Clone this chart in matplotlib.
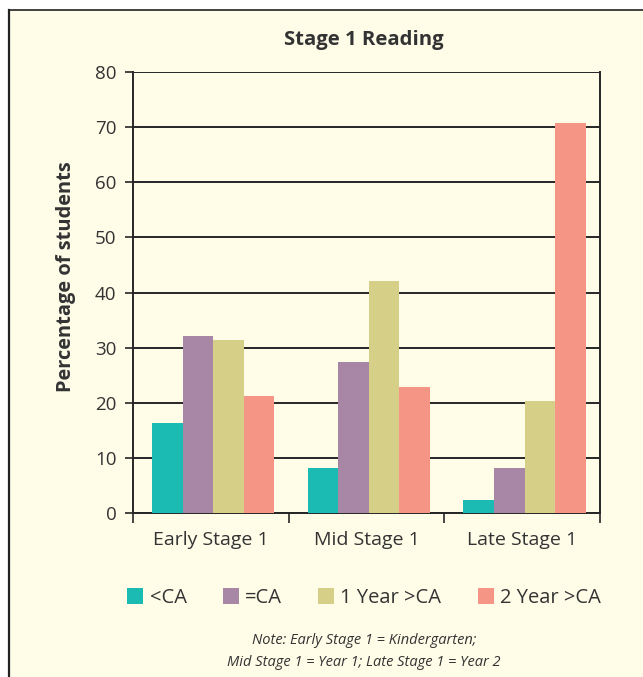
import matplotlib
matplotlib.use("Agg")
import matplotlib.pyplot as plt
from matplotlib.patches import Rectangle
import numpy as np

categories = ["Early Stage 1", "Mid Stage 1", "Late Stage 1"]
series_names = ["<CA", "=CA", "1 Year >CA", "2 Year >CA"]
below_ca = [16.3, 8.2, 2.4]
at_ca = [32.1, 27.4, 8.2]
one_year_above = [31.4, 42.1, 20.3]
two_years_above = [21.2, 22.9, 70.8]
y_ticks = [0, 10, 20, 30, 40, 50, 60, 70, 80]

colors = ["#1bbbb4", "#a886a6", "#d6cf87", "#f49585"]
bg = "#fffce8"
ink = "#333333"

plt.rcParams["font.family"] = ["Open Sans", "DejaVu Sans"]

W, H = 643, 677
fig = plt.figure(figsize=(W / 100, H / 100), dpi=100)
fig.patch.set_facecolor("white")

# cream panel with dark frame on the top and left edges
fig.add_artist(Rectangle((9 / W, 0), 1 - 9 / W, 1 - 10 / H,
                         transform=fig.transFigure, facecolor=bg,
                         edgecolor="none", zorder=-10))
fig.add_artist(plt.Line2D([9 / W, 9 / W], [0, 1 - 10 / H], transform=fig.transFigure,
                          color="#222222", lw=1.6, zorder=-5))
fig.add_artist(plt.Line2D([9 / W, 1], [1 - 10 / H, 1 - 10 / H], transform=fig.transFigure,
                          color="#222222", lw=1.2, zorder=-5))

ax_l, ax_r, ax_t, ax_b = 133, 600, 72, 513
ax = fig.add_axes([ax_l / W, 1 - ax_b / H, (ax_r - ax_l) / W, (ax_b - ax_t) / H])
ax.set_facecolor(bg)

series = [below_ca, at_ca, one_year_above, two_years_above]
x = np.arange(len(categories))
bw = 0.196
offsets = (np.arange(4) - 1.5) * bw + 0.015
for vals, off, c, name in zip(series, offsets, colors, series_names):
    ax.bar(x + off, vals, width=bw, color=c, label=name, zorder=3, linewidth=0)

ax.set_xlim(-0.5, 2.5)
ax.set_ylim(0, 80)
ax.set_yticks(y_ticks)
ax.set_yticklabels([str(v) for v in y_ticks], fontsize=13.5, color=ink)
ax.yaxis.grid(True, color="#262626", lw=1.4, zorder=1)
ax.set_axisbelow(True)

ax.set_xticks(x)
ax.set_xticklabels(categories, fontsize=14, color=ink)
ax.tick_params(axis="x", length=0, pad=13)
ax.set_xticks([-0.5, 0.5, 1.5, 2.5], minor=True)
ax.tick_params(axis="x", which="minor", length=7, width=1.2, color="#262626", direction="out")
ax.tick_params(axis="y", length=6, width=1.2, color="#262626", pad=6)

for s in ["left", "right", "bottom"]:
    ax.spines[s].set_color("#262626")
    ax.spines[s].set_linewidth(1.4)
ax.spines["top"].set_visible(False)

ax.set_ylabel("Percentage of students", fontsize=14.4, fontweight="bold", color=ink)
ax.yaxis.set_label_coords(-0.122, 0.535)
fig.text(364 / W, 1 - 40 / H, "Stage 1 Reading", ha="center", va="center",
         fontsize=14.6, fontweight="bold", color=ink)

leg = fig.legend(loc="center", bbox_to_anchor=(364 / W, 1 - 598 / H), ncol=4,
                 frameon=False, fontsize=14.5, handlelength=0.8, handleheight=0.8,
                 handletextpad=0.3, columnspacing=1.8, labelcolor=ink)

fig.text(364 / W, 1 - 641 / H, "Note: Early Stage 1 = Kindergarten;", ha="center", va="center",
         fontsize=10.5, style="italic", color=ink)
fig.text(364 / W, 1 - 662 / H, "Mid Stage 1 = Year 1; Late Stage 1 = Year 2", ha="center",
         va="center", fontsize=10.5, style="italic", color=ink)

fig.savefig("out.png", dpi=100, facecolor=fig.get_facecolor())
